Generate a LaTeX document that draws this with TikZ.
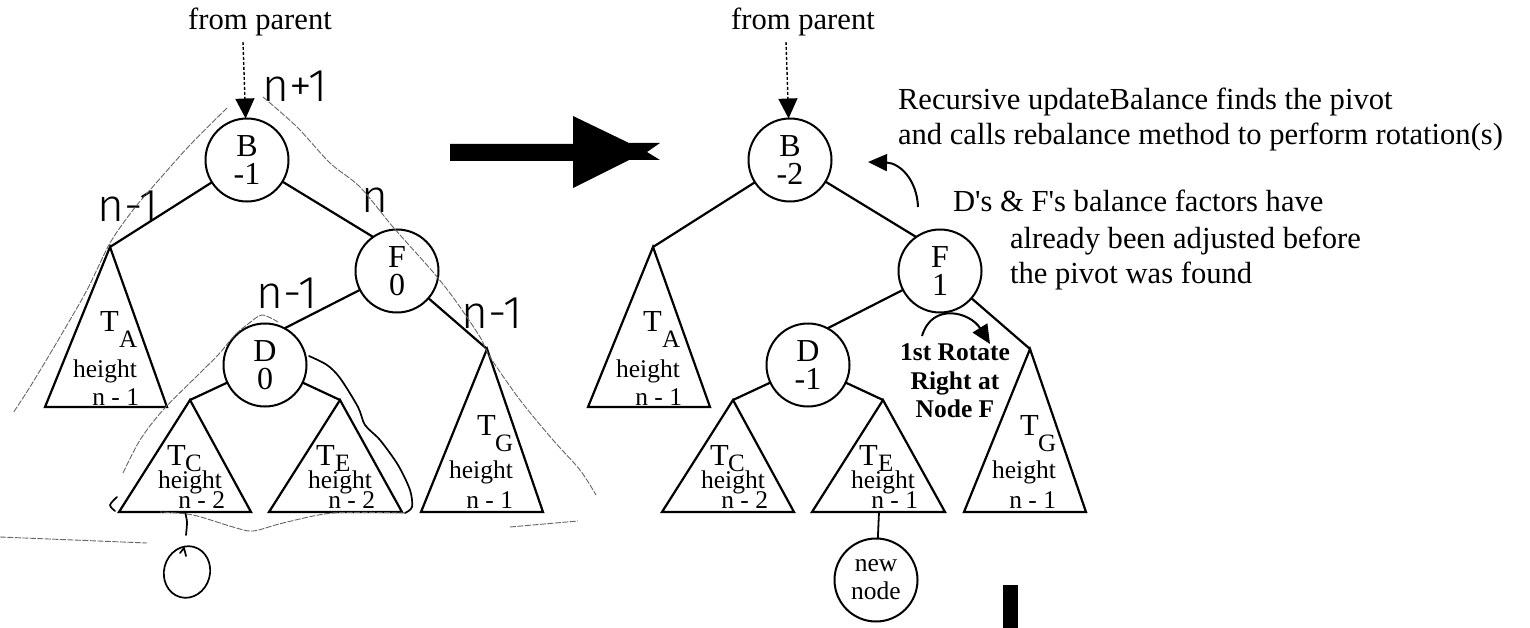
\documentclass[tikz,border=0pt]{standalone}
\usepackage{fontspec}
\setmainfont{Liberation Serif}[Ligatures=TeXOff]
\newfontfamily\handfont{Fira Sans Light}
\usetikzlibrary{arrows.meta}

% one AVL tree: #1 name suffix, #2/#3/#4 balance of B/F/D, #5 height of T_E
\newcommand\avltree[5]{%
  \node[txt, anchor=base] (fp#1) at (260,30) {from parent};
  \coordinate (p#1) at (243,42);
  \node[tnode] (B#1) at (247,160) {B\\#2};
  \node[tnode] (F#1) at (397,271) {F\\#3};
  \node[tnode] (D#1) at (265,365) {D\\#4};
  \coordinate (a#1) at (110,247);
  \coordinate (c#1) at (190,400);
  \coordinate (e#1) at (340,400);
  \coordinate (g#1) at (487,349);
  \draw[parentlink] (p#1) -- (B#1);
  \draw[edge] (B#1) -- (a#1);
  \draw[edge] (B#1) -- (F#1.125);
  \draw[edge] (F#1) -- (D#1.62);
  \draw[edge] (F#1) -- (g#1);
  \draw[edge] (D#1) -- (c#1);
  \draw[edge] (D#1) -- (e#1);
  \draw[tri] (a#1) -- (45,407) -- (167,407) -- cycle;
  \draw[tri] (c#1) -- (119,512) -- (251,512) -- cycle;
  \draw[tri] (e#1) -- (269,512) -- (402,512) -- cycle;
  \draw[tri] (g#1) -- (421,512) -- (543,512) -- cycle;
  % subtree T_A
  \node[txt, anchor=base west] (ta#1) at (100,331) {T};
  \node[subtxt, anchor=base west] (tas#1) at (119,347) {A};
  \node[smalltxt, anchor=base] (tah#1) at (105,377) {height};
  \node[smalltxt, anchor=base east] (tan#1) at (139,405) {n - 1};
  % subtree T_C
  \node[txt, anchor=base west] (tc#1) at (167,465) {T};
  \node[subtxt, anchor=base west] (tcs#1) at (185,471) {C};
  \node[smalltxt, anchor=base] (tch#1) at (190,488) {height};
  \node[smalltxt, anchor=base east] (tcn#1) at (225,508) {n - 2};
  % subtree T_E
  \node[txt, anchor=base west] (te#1) at (316,465) {T};
  \node[subtxt, anchor=base west] (tes#1) at (335,471) {E};
  \node[smalltxt, anchor=base] (teh#1) at (340,488) {height};
  \node[smalltxt, anchor=base east] (ten#1) at (375,508) {#5};
  % subtree T_G
  \node[txt, anchor=base west] (tg#1) at (477,435) {T};
  \node[subtxt, anchor=base west] (tgs#1) at (495,451) {G};
  \node[smalltxt, anchor=base] (tgh#1) at (481,478) {height};
  \node[smalltxt, anchor=base east] (tgn#1) at (513,508) {n - 1};
}

\begin{document}
\begin{tikzpicture}[x=1pt, y=-1pt,
  every node/.style={inner sep=0pt, outer sep=0pt},
  txt/.style={font=\fontsize{30.6}{35}\selectfont},
  subtxt/.style={font=\fontsize{25}{25}\selectfont},
  smalltxt/.style={font=\fontsize{25.5}{28}\selectfont},
  boldtxt/.style={font=\fontsize{25.5}{28.5}\selectfont\bfseries, align=center},
  tnode/.style={circle, draw, line width=2pt, minimum size=83pt, align=center,
                font=\fontsize{32}{28}\selectfont},
  edge/.style={line width=2.2pt},
  tri/.style={line width=2.2pt, line join=miter},
  parentlink/.style={line width=1.4pt, dash pattern=on 3pt off 2pt,
                     -{Triangle[length=20pt,width=19pt]}},
  curvearrow/.style={line width=2pt, -{Triangle[length=19pt,width=17pt]}},
  hand/.style={line width=1.7pt, line cap=round, line join=round},
  handthin/.style={line width=0.9pt, black!60, dash pattern=on 6pt off 1.5pt},
  handtxt/.style={font=\handfont\fontsize{46}{46}\selectfont}
]
\useasboundingbox (0,0) rectangle (1530,628);
\fill[white] (0,0) rectangle (1530,628);

% tree before the rotation
\avltree{L}{-1}{0}{0}{n - 2}

% tree after the insertion
\begin{scope}[xshift=543pt]
  \avltree{R}{-2}{1}{-1}{n - 1}
\end{scope}

% inserted leaf under T_E
\coordinate (tebot) at (879,512);
\node[tnode, font=\fontsize{25.5}{28}\selectfont] (new) at (876,580) {new\\node};
\draw[line width=1.8pt] (tebot) -- (new);

% big transition arrow
\fill (450,144) -- (573,144) -- (573,116) -- (629,143) -- (660,143) -- (647,152)
  -- (660,160) -- (629,160) -- (573,188) -- (573,161) -- (450,161) -- cycle;

% explanations
\node[txt, anchor=base west] (r1) at (898,110) {Recursive updateBalance finds the pivot};
\node[txt, anchor=base west] (r2) at (898,145) {and calls rebalance method to perform rotation(s)};
\node[txt, anchor=base west] (d1) at (953,212) {D's \& F's balance factors have};
\node[txt, anchor=base west] (d2) at (1010,248) {already been adjusted before};
\node[txt, anchor=base west] (d3) at (1010,283) {the pivot was found};
\node[boldtxt, anchor=north] (rot) at (955,344) {1st Rotate\\Right at\\Node F};

\coordinate (c1s) at (918,207);
\coordinate (c1e) at (868,162);
\draw[curvearrow] (c1s) .. controls (917,180) and (900,163) .. (c1e);
\coordinate (c2s) at (922,336);
\coordinate (c2e) at (990,344);
\draw[curvearrow] (c2s) .. controls (932,302) and (970,312) .. (c2e);

% small black bar
\fill (1003,585) rectangle (1018,628);

% pencil notes on the left tree
\node[handtxt] (h1) at (295,86) {n+1};
\node[handtxt] (h2) at (128,206) {n-1};
\node[handtxt] (h3) at (375,200) {n};
\node[handtxt] (h4) at (287,293) {n-1};
\node[handtxt] (h5) at (492,313) {n-1};

\draw[handthin] plot[smooth] coordinates {(227,108) (190,145) (157,182) (133,210)
  (110,243) (87,290) (60,337) (30,387) (13,413)};
\draw[handthin] plot[smooth] coordinates {(263,97) (297,127) (330,163) (360,187)
  (393,227) (433,272) (455,300) (480,337) (490,357) (520,400) (553,440) (580,470) (596,495)};
\draw[handthin] (510,527) -- (578,521);
\draw[handthin] (0,537) -- (147,543);

% loop around the subtree of D
\draw[handthin] plot[smooth] coordinates {(123,473) (140,440) (163,410) (200,373)
  (218,355) (235,335) (248,324) (262,315) (278,322)};
\draw[hand] plot[smooth] coordinates {(309,356) (327,365) (340,378) (358,407)
  (365,425) (380,440) (398,465) (410,490) (412,507) (405,513)};
\draw[handthin] plot[smooth] coordinates {(405,513) (333,513) (283,523) (253,531)
  (233,527) (193,515) (160,512)};
\draw[hand] plot[smooth] coordinates {(117,497) (110,505) (115,511)};

% zero height mark below T_C
\draw[hand] plot[smooth] coordinates {(185,512) (187,522) (186,535)};
\draw[hand, rotate around={-15:(187,572)}] (187,572) ellipse [x radius=23, y radius=26];
\draw[hand] (180,553) -- (184,548) -- (186,556);
\end{tikzpicture}
\end{document}
